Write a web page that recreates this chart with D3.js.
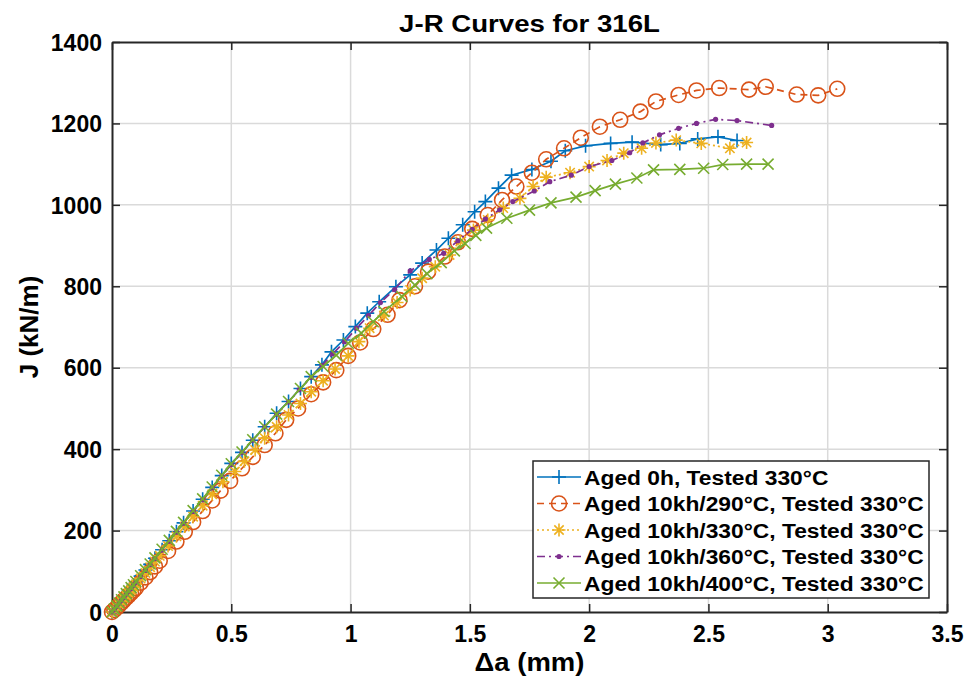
<!doctype html>
<html lang="en">
<head>
    <meta http-equiv="content-type" content="text/html; charset=utf-8" />
    <title>J-R Curves for 316L</title>
    <script src="https://cdn.jsdelivr.net/npm/d3@7/dist/d3.min.js"></script>
    <style>
        body { margin: 0; background: #fff; }
        svg text { font-family: "Liberation Sans", Arial, sans-serif; font-weight: bold; fill: #000; }
    </style>
</head>
<body>
<svg id="chart"></svg>
<script>
    // [crack extension (mm), J (kN/m)]
    const aged0h = [[0,0],[0.01,7],[0.02,14],[0.03,22],[0.04,29],[0.05,37],[0.06,44],[0.07,52],[0.08,59],[0.09,66],[0.10,74],[0.12,88],[0.14,103],[0.16,117],[0.18,132],[0.21,153],[0.24,175],[0.27,197],[0.30,219],[0.34,248],[0.38,277],[0.42,306],[0.46,335],[0.50,365],[0.545,392],[0.59,422],[0.64,455],[0.69,488],[0.74,517],[0.79,549],[0.835,578],[0.88,607],[0.92,639],[0.97,668],[1.02,701],[1.07,734],[1.12,762],[1.19,799],[1.25,828],[1.30,857],[1.36,889],[1.41,918],[1.47,951],[1.52,983],[1.565,1008],[1.62,1041],[1.675,1073],[1.76,1087],[1.84,1107],[1.90,1133],[1.985,1145],[2.09,1151],[2.18,1154],[2.30,1148],[2.38,1151],[2.455,1162],[2.54,1167],[2.62,1158]];
    const aged290 = [[0,0],[0.01,5],[0.02,11],[0.03,17],[0.04,23],[0.05,29],[0.06,35],[0.07,41],[0.08,47],[0.09,53],[0.10,59],[0.12,72],[0.14,85],[0.16,98],[0.18,112],[0.20,126],[0.235,150],[0.27,173],[0.305,197],[0.34,221],[0.38,248],[0.42,274],[0.455,298],[0.495,322],[0.545,353],[0.59,381],[0.64,410],[0.685,439],[0.73,472],[0.78,500],[0.835,535],[0.885,564],[0.94,594],[0.99,629],[1.04,662],[1.095,695],[1.155,730],[1.205,766],[1.27,800],[1.325,836],[1.395,873],[1.45,908],[1.51,941],[1.575,975],[1.635,1012],[1.695,1045],[1.76,1079],[1.82,1112],[1.895,1139],[1.965,1165],[2.045,1192],[2.13,1209],[2.215,1229],[2.28,1254],[2.375,1270],[2.45,1281],[2.545,1287],[2.67,1283],[2.74,1290],[2.87,1271],[2.96,1269],[3.04,1285]];
    const aged330 = [[0,0],[0.01,6],[0.02,13],[0.03,20],[0.04,27],[0.05,34],[0.06,40],[0.07,47],[0.08,54],[0.09,61],[0.10,68],[0.12,82],[0.14,96],[0.16,110],[0.18,124],[0.20,138],[0.235,162],[0.27,186],[0.305,210],[0.34,234],[0.38,261],[0.42,289],[0.465,320],[0.515,345],[0.555,370],[0.60,398],[0.64,427],[0.69,455],[0.74,484],[0.79,512],[0.835,541],[0.885,568],[0.935,597],[0.99,629],[1.035,664],[1.08,697],[1.14,728],[1.195,760],[1.25,791],[1.30,820],[1.355,848],[1.415,877],[1.46,910],[1.515,938],[1.575,963],[1.64,992],[1.71,1016],[1.765,1045],[1.82,1068],[1.92,1079],[2.0,1094],[2.075,1109],[2.145,1127],[2.22,1139],[2.28,1152],[2.365,1159],[2.47,1151],[2.59,1139],[2.66,1153]];
    const aged360 = [[0,0],[0.01,7],[0.02,14],[0.03,22],[0.04,29],[0.05,36],[0.06,44],[0.07,51],[0.08,58],[0.09,66],[0.10,73],[0.12,87],[0.14,102],[0.16,116],[0.18,131],[0.21,152],[0.24,174],[0.27,196],[0.30,218],[0.34,247],[0.38,276],[0.42,305],[0.46,334],[0.50,362],[0.545,392],[0.59,422],[0.64,455],[0.69,486],[0.74,516],[0.785,546],[0.835,576],[0.88,605],[0.925,634],[0.975,664],[1.025,697],[1.075,728],[1.125,760],[1.185,792],[1.25,838],[1.33,866],[1.39,881],[1.45,912],[1.51,940],[1.565,965],[1.625,988],[1.68,1008],[1.77,1034],[1.835,1057],[1.925,1073],[2.0,1094],[2.095,1109],[2.17,1128],[2.225,1152],[2.295,1172],[2.375,1188],[2.45,1200],[2.53,1210],[2.62,1207],[2.765,1195]];
    const aged400 = [[0,0],[0.01,7],[0.02,15],[0.03,22],[0.04,30],[0.05,37],[0.06,45],[0.07,52],[0.08,60],[0.09,67],[0.10,75],[0.12,89],[0.14,104],[0.16,118],[0.18,133],[0.21,154],[0.24,176],[0.27,198],[0.30,220],[0.34,249],[0.38,278],[0.42,307],[0.46,336],[0.50,364],[0.545,393],[0.59,423],[0.64,455],[0.69,486],[0.74,517],[0.79,549],[0.835,578],[0.885,603],[0.94,631],[0.99,660],[1.045,685],[1.095,713],[1.14,738],[1.215,775],[1.27,803],[1.32,831],[1.38,858],[1.435,887],[1.48,905],[1.525,925],[1.57,943],[1.655,967],[1.75,987],[1.84,1005],[1.945,1019],[2.025,1035],[2.11,1051],[2.2,1066],[2.27,1086],[2.38,1087],[2.48,1090],[2.56,1099],[2.66,1100],[2.75,1100]];

    const seriesNames = ["Aged 0h, Tested 330\u00B0C", "Aged 10kh/290\u00B0C, Tested 330\u00B0C", "Aged 10kh/330\u00B0C, Tested 330\u00B0C", "Aged 10kh/360\u00B0C, Tested 330\u00B0C", "Aged 10kh/400\u00B0C, Tested 330\u00B0C"];
    const xTicks = [0, 0.5, 1, 1.5, 2, 2.5, 3, 3.5];
    const yTicks = [0, 200, 400, 600, 800, 1000, 1200, 1400];

    const series = [
        {name: seriesNames[0], values: aged0h,  color: "#0072BD", dash: null,        marker: "plus"},
        {name: seriesNames[1], values: aged290, color: "#D95319", dash: "7,5",       marker: "circle"},
        {name: seriesNames[2], values: aged330, color: "#EDB120", dash: "2,3",       marker: "star"},
        {name: seriesNames[3], values: aged360, color: "#7E2F8E", dash: "8,4,2,4",   marker: "dot"},
        {name: seriesNames[4], values: aged400, color: "#77AC30", dash: null,        marker: "cross"}
    ];

    const width = 969, height = 685;
    const margin = {top: 42, right: 22, bottom: 73, left: 112};

    const svg = d3.select("#chart")
        .attr("width", width)
        .attr("height", height);

    const x = d3.scaleLinear().domain([0, 3.5]).range([margin.left, width - margin.right]);
    const y = d3.scaleLinear().domain([0, 1400]).range([height - margin.bottom, margin.top]);

    const axisColor = "#262626";

    // the figure's text is a bit wider than Arial, so widen it a little
    function widen(sel, k) {
        sel.attr("textLength", function() { return this.getComputedTextLength() * k; })
            .attr("lengthAdjust", "spacingAndGlyphs");
    }

    // grid
    svg.append("g").selectAll("line")
        .data(xTicks.slice(1, -1))
        .join("line")
        .attr("x1", d => x(d)).attr("x2", d => x(d))
        .attr("y1", y(0)).attr("y2", y(1400))
        .attr("stroke", "#dadada").attr("stroke-width", 1.5);
    svg.append("g").selectAll("line")
        .data(yTicks.slice(1, -1))
        .join("line")
        .attr("x1", x(0)).attr("x2", x(3.5))
        .attr("y1", d => y(d)).attr("y2", d => y(d))
        .attr("stroke", "#dadada").attr("stroke-width", 1.5);

    // axes, ticks pointing inwards on all four sides
    const tickLen = 8;
    const xAxis = d3.axisBottom(x).tickValues(xTicks).tickSizeInner(-tickLen).tickSizeOuter(0).tickPadding(14).tickFormat(d3.format("~g"));
    const yAxis = d3.axisLeft(y).tickValues(yTicks).tickSizeInner(-tickLen).tickSizeOuter(0).tickPadding(10).tickFormat(d3.format("d"));
    const xTop = d3.axisTop(x).tickValues(xTicks).tickSizeInner(-tickLen).tickSizeOuter(0).tickFormat("");
    const yRight = d3.axisRight(y).tickValues(yTicks).tickSizeInner(-tickLen).tickSizeOuter(0).tickFormat("");

    function styleAxis(g) {
        g.selectAll("path.domain").attr("stroke", axisColor).attr("stroke-width", 2);
        g.selectAll(".tick line").attr("stroke", axisColor).attr("stroke-width", 1.5);
        g.selectAll(".tick text").attr("fill", "#000").style("font-size", "23px")
            .attr("font-family", null);
    }

    svg.append("g").attr("transform", `translate(0,${y(0)})`).call(xAxis).call(styleAxis)
        .selectAll(".tick text").attr("dy", "0.71em");
    svg.append("g").attr("transform", `translate(${x(0)},0)`).call(yAxis).call(styleAxis)
        .selectAll(".tick text").attr("dy", "0.36em");
    svg.append("g").attr("transform", `translate(0,${y(1400)})`).call(xTop).call(styleAxis);
    svg.append("g").attr("transform", `translate(${x(3.5)},0)`).call(yRight).call(styleAxis);

    // markers
    function markerPath(type, s) {
        if (type === "plus") return `M${-s},0H${s}M0,${-s}V${s}`;
        if (type === "cross") return `M${-s},${-s}L${s},${s}M${-s},${s}L${s},${-s}`;
        if (type === "star") {
            const k = s * 0.72;
            return `M${-s},0H${s}M0,${-s}V${s}M${-k},${-k}L${k},${k}M${-k},${k}L${k},${-k}`;
        }
        return "";
    }

    function drawMarker(sel, type, color) {
        if (type === "circle") {
            sel.append("circle").attr("r", 7.5).attr("fill", "none").attr("stroke", color).attr("stroke-width", 1.6);
        } else if (type === "dot") {
            sel.append("circle").attr("r", 2.6).attr("fill", color).attr("stroke", "none");
        } else {
            const s = type === "cross" ? 5.5 : type === "star" ? 6.5 : 7;
            sel.append("path").attr("d", markerPath(type, s)).attr("fill", "none")
                .attr("stroke", color).attr("stroke-width", 1.6);
        }
    }

    const line = d3.line().x(d => x(d[0])).y(d => y(d[1]));

    series.forEach(s => {
        const g = svg.append("g");
        g.append("path")
            .datum(s.values)
            .attr("d", line)
            .attr("fill", "none")
            .attr("stroke", s.color)
            .attr("stroke-width", 1.7)
            .attr("stroke-dasharray", s.dash);
        g.selectAll("g.mk")
            .data(s.values)
            .join("g")
            .attr("class", "mk")
            .attr("transform", d => `translate(${x(d[0])},${y(d[1])})`)
            .each(function() { drawMarker(d3.select(this), s.marker, s.color); });
    });

    // title and axis labels
    svg.append("text")
        .attr("x", (x(0) + x(3.5)) / 2).attr("y", 32)
        .attr("text-anchor", "middle")
        .style("font-size", "23px")
        .text("J-R Curves for 316L")
        .call(widen, 1.2);

    svg.append("text")
        .attr("x", (x(0) + x(3.5)) / 2).attr("y", 671)
        .attr("text-anchor", "middle")
        .style("font-size", "25px")
        .text("\u0394a (mm)")
        .call(widen, 1.1);

    svg.append("text")
        .attr("transform", `translate(38,${(y(0) + y(1400)) / 2}) rotate(-90)`)
        .attr("text-anchor", "middle")
        .style("font-size", "25px")
        .text("J (kN/m)")
        .call(widen, 1.04);

    // legend
    const lg = svg.append("g").attr("transform", "translate(533,461)");
    lg.append("rect").attr("width", 396).attr("height", 137)
        .attr("fill", "#fff").attr("stroke", axisColor).attr("stroke-width", 1.5);

    const rows = lg.selectAll("g.row")
        .data(series)
        .join("g")
        .attr("class", "row")
        .attr("transform", (d, i) => `translate(0,${16 + i * 26.5})`);

    rows.append("line")
        .attr("x1", 4).attr("x2", 48)
        .attr("stroke", d => d.color).attr("stroke-width", 1.7)
        .attr("stroke-dasharray", d => d.dash);

    rows.append("g")
        .attr("transform", "translate(26,0)")
        .each(function(d) { drawMarker(d3.select(this), d.marker, d.color); });

    rows.append("text")
        .attr("x", 51).attr("y", 7.5)
        .style("font-size", "20px")
        .text(d => d.name)
        .call(widen, 1.14);
</script>
</body>
</html>
